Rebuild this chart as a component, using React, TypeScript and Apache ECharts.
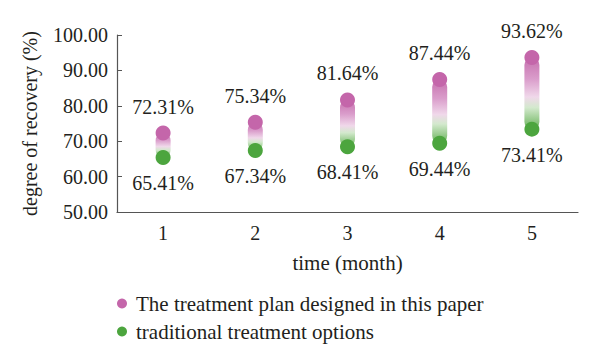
import React, { useEffect, useRef } from "react";
import * as echarts from "echarts";

const months = ["1", "2", "3", "4", "5"];
const planValues = [72.31, 75.34, 81.64, 87.44, 93.62];
const traditionalValues = [65.41, 67.34, 68.41, 69.44, 73.41];
const planName = "The treatment plan designed in this paper";
const traditionalName = "traditional treatment options";

const PINK = "#c466aa";
const GREEN = "#4ca53e";
const FONT = "'Liberation Serif', 'DejaVu Serif', serif";
const TEXT = "#231f20";

export default function App() {
  const ref = useRef<HTMLDivElement>(null);
  useEffect(() => {
    if (!ref.current) return;
    const chart = echarts.init(ref.current, undefined, { renderer: "svg" });
    const capsuleData = months.map((_, i) => [i, traditionalValues[i], planValues[i]]);
    chart.setOption({
      animation: false,
      textStyle: { fontFamily: FONT, color: TEXT },
      grid: { left: 117, right: 22, top: 35, bottom: 152, containLabel: false },
      legend: {
        orient: "vertical",
        left: 112,
        top: 288,
        itemGap: 7,
        itemWidth: 10,
        itemHeight: 10,
        icon: "circle",
        data: [planName, traditionalName],
        textStyle: { fontFamily: FONT, fontSize: 21, color: TEXT, padding: [0, 0, 0, 4] },
      },
      xAxis: {
        type: "category",
        data: months,
        boundaryGap: true,
        name: "time (month)",
        nameLocation: "middle",
        nameGap: 40,
        nameTextStyle: { fontFamily: FONT, fontSize: 21, color: TEXT },
        axisLine: { lineStyle: { color: "#555", width: 1.2 } },
        axisTick: { inside: true, length: 5, lineStyle: { color: "#555" } },
        axisLabel: { fontFamily: FONT, fontSize: 20, color: TEXT, margin: 11 },
        splitLine: { show: false },
      },
      yAxis: {
        type: "value",
        min: 50,
        max: 100,
        interval: 10,
        name: "degree of recovery (%)",
        nameLocation: "middle",
        nameRotate: 90,
        nameGap: 77,
        nameTextStyle: { fontFamily: FONT, fontSize: 20, color: TEXT },
        axisLine: { show: true, lineStyle: { color: "#555", width: 1.2 } },
        axisTick: { show: true, inside: true, length: 5, lineStyle: { color: "#555" } },
        axisLabel: {
          fontFamily: FONT,
          fontSize: 20,
          color: TEXT,
          margin: 9,
          formatter: (v: number) => v.toFixed(2),
        },
        splitLine: { show: false },
      },
      series: [
        {
          type: "custom",
          name: "capsule",
          data: capsuleData,
          z: 1,
          renderItem: (params: any, api: any) => {
            const x = api.value(0);
            const lo = api.coord([x, api.value(1)]);
            const hi = api.coord([x, api.value(2)]);
            const w = 15;
            return {
              type: "rect",
              shape: { x: hi[0] - w / 2, y: hi[1], width: w, height: lo[1] - hi[1], r: w / 2 },
              style: {
                fill: new echarts.graphic.LinearGradient(0, 0, 0, 1, [
                  { offset: 0, color: "#c670ae" },
                  { offset: 0.3, color: "#da9dcb" },
                  { offset: 0.55, color: "#f0d8ea" },
                  { offset: 0.7, color: "#d3e9cd" },
                  { offset: 1, color: "#67b258" },
                ]),
              },
            };
          },
        },
        {
          type: "scatter",
          name: planName,
          data: planValues,
          symbolSize: 15,
          z: 3,
          itemStyle: { color: PINK, opacity: 1 },
          label: {
            show: true,
            position: "top",
            distance: 9,
            fontFamily: FONT,
            fontSize: 20,
            color: TEXT,
            formatter: (p: any) => p.value.toFixed(2) + "%",
          },
        },
        {
          type: "scatter",
          name: traditionalName,
          data: traditionalValues,
          symbolSize: 15,
          z: 3,
          itemStyle: { color: GREEN, opacity: 1 },
          label: {
            show: true,
            position: "bottom",
            distance: 8,
            fontFamily: FONT,
            fontSize: 20,
            color: TEXT,
            formatter: (p: any) => p.value.toFixed(2) + "%",
          },
        },
      ],
    });
    return () => chart.dispose();
  }, []);
  return <div ref={ref} style={{ width: 600, height: 364, margin: -8 }} />;
}
